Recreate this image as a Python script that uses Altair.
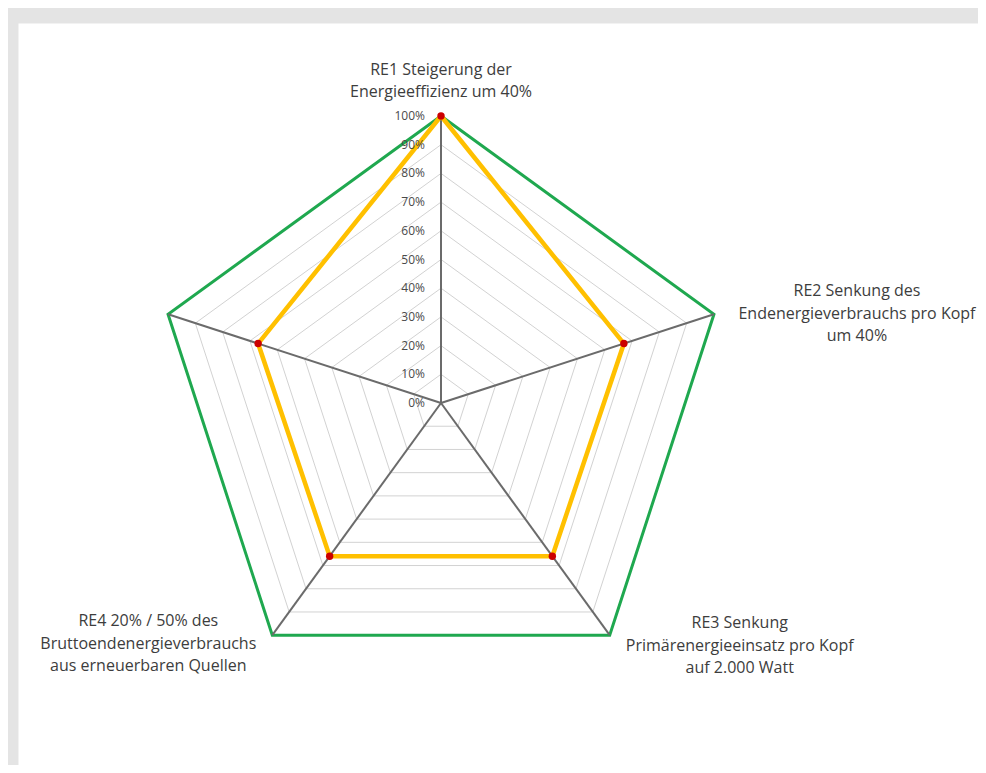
import altair as alt
import pandas as pd

categories = [
    "RE1  Steigerung der\nEnergieeffizienz um 40%",
    "RE2  Senkung des\nEndenergieverbrauchs pro Kopf\num 40%",
    "RE3  Senkung\nPrimärenergieeinsatz pro Kopf\nauf 2.000 Watt",
    "RE4  20% / 50% des\nBruttoendenergieverbrauchs\naus erneuerbaren Quellen",
    "",
]
values = [100, 67, 66, 66, 67]
tick_values = [0, 10, 20, 30, 40, 50, 60, 70, 80, 90, 100]
tick_labels = ["0%", "10%", "20%", "30%", "40%", "50%", "60%", "70%", "80%", "90%", "100%"]
grid_levels = [10, 20, 30, 40, 50, 60, 70, 80, 90]
outer_level = 100

n = len(categories)

series_df = pd.DataFrame({"idx": list(range(n + 1)), "value": values + [values[0]]})
points_df = pd.DataFrame({"idx": list(range(n)), "value": values})
grid_df = pd.DataFrame(
    [{"level": lv, "idx": i, "value": lv} for lv in grid_levels for i in range(n + 1)]
)
outer_df = pd.DataFrame([{"level": outer_level, "idx": i, "value": outer_level} for i in range(n + 1)])
spoke_df = pd.DataFrame(
    [{"spoke": i, "idx": i, "value": v, "ord": k} for i in range(n) for k, v in enumerate([0, outer_level])]
)
tick_df = pd.DataFrame({"idx": [0] * len(tick_values), "value": tick_values, "label": tick_labels})
label_df = pd.DataFrame({"idx": list(range(n)), "value": [outer_level] * n, "label": categories})

xs = alt.Scale(domain=[-1.47387, 1.87108], nice=False, zero=False)
ys = alt.Scale(domain=[-1.26132, 1.32404], nice=False, zero=False)


def polar(ch):
    return ch.transform_calculate(
        theta="datum.idx * 2 * PI / %d" % n,
        px="datum.value / 100 * sin(datum.theta)",
        py="datum.value / 100 * cos(datum.theta)",
    )


def xy(**kw):
    return dict(
        x=alt.X("px:Q", scale=xs, axis=None),
        y=alt.Y("py:Q", scale=ys, axis=None),
        **kw,
    )


grid = polar(alt.Chart(grid_df).mark_line(color="#d2d2d2", strokeWidth=1)).encode(
    **xy(detail="level:N", order=alt.Order("idx:Q"))
)
outer = polar(alt.Chart(outer_df).mark_line(color="#1fa84f", strokeWidth=3)).encode(
    **xy(order=alt.Order("idx:Q"))
)
spokes = polar(alt.Chart(spoke_df).mark_line(color="#6b6b6b", strokeWidth=2)).encode(
    **xy(detail="spoke:N", order=alt.Order("ord:Q"))
)
series = polar(alt.Chart(series_df).mark_line(color="#ffc000", strokeWidth=4.5)).encode(
    **xy(order=alt.Order("idx:Q"))
)
points = polar(alt.Chart(points_df).mark_point(filled=True, color="#cc0000", size=55, opacity=1)).encode(
    **xy()
)
ticks = polar(
    alt.Chart(tick_df).mark_text(align="right", baseline="middle", dx=-16, font="Open Sans", fontSize=12, color="#4a4a4a")
).encode(**xy(text="label:N"))

# offsets of the first line of each label relative to its axis end
label_offsets = [(0, -46), (143, -23), (130, -12), (-124, -14), (0, 0)]
label_layers = []
for i, (ddx, ddy) in enumerate(label_offsets):
    if not categories[i]:
        continue
    label_layers.append(
        polar(
            alt.Chart(label_df)
            .transform_filter("datum.idx == %d" % i)
            .mark_text(
                align="center",
                baseline="middle",
                dx=ddx,
                dy=ddy,
                lineBreak="\n",
                lineHeight=22.5,
                font="Open Sans",
                fontSize=16,
                color="#3d3d3d",
            )
        ).encode(**xy(text="label:N"))
    )

chart = (
    alt.layer(grid, outer, spokes, series, points, ticks, *label_layers)
    .properties(
        width=960,
        height=742,
        padding={"left": 10, "top": 15, "right": 0, "bottom": 0},
        background="#e4e4e4",
    )
    .configure_view(fill="white", stroke="transparent")
)

chart.save("out.html", embed_options={"renderer": "svg", "actions": False})
